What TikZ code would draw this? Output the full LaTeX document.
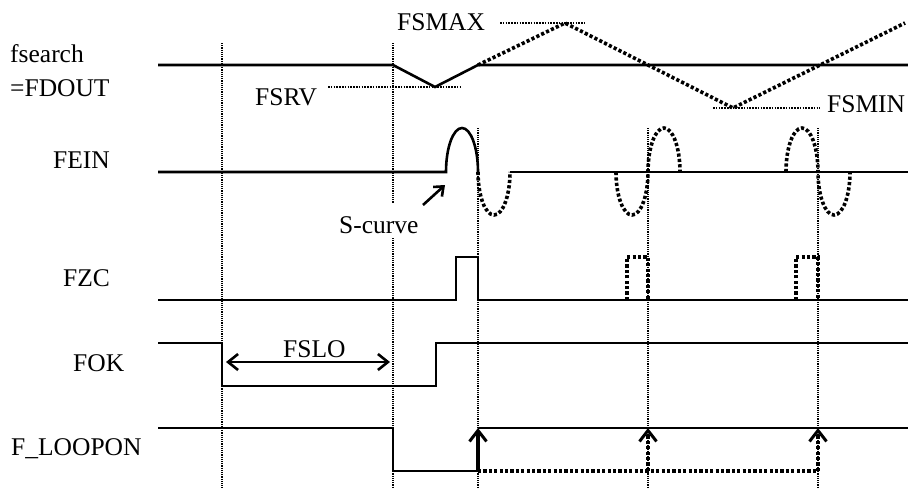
\documentclass[tikz,border=0pt]{standalone}
\usepackage{fontspec}
\setmainfont{Liberation Serif}
\usetikzlibrary{arrows.meta}
\tikzset{
 sig/.style={line width=2.6pt},
 bigdot/.style={line width=3.6pt,dash pattern=on 3.2pt off 2.2pt},
 guide/.style={line width=1.6pt,dash pattern=on 1.2pt off 1pt},
 refline/.style={line width=2.2pt,dash pattern=on 1.6pt off 1.2pt},
 lbl/.style={inner sep=0pt,anchor=base west,font=\fontsize{25.5}{28}\selectfont},
 uparrow/.style={-{Straight Barb[length=11pt,width=17pt,line width=3pt]}},
 span/.style={{Straight Barb[length=10pt,width=16pt]}-{Straight Barb[length=10pt,width=16pt]}}
}
\begin{document}
\begin{tikzpicture}[x=1pt,y=-1pt]
 \useasboundingbox (0,0) rectangle (908,490);
 \draw[guide] (222,43) -- (222,488);
 \draw[guide] (393,43) -- (393,203);
 \draw[guide] (393,238) -- (393,488);
 \foreach \x in {478,648,818}
  \draw[guide] (\x,128) -- (\x,488);

 \node[lbl] (fsearch) at (10,62) {fsearch};
 \node[lbl] (fdout) at (10,96) {=FDOUT};
 \coordinate (dip) at (435,87);
 \coordinate (top) at (565,23);
 \coordinate (bot) at (733,108);
 \draw[sig] (158,65) -- (393,65) -- (dip) -- (478,65) -- (908,65);
 \draw[bigdot] (478,65) -- (top) -- (bot) -- (905,23);
 \node[lbl] (fsrv) at (255,105) {FSRV};
 \draw[refline] (328,87) -- (dip) -- (460,87);
 \node[lbl] (fsmax) at (397,30) {FSMAX};
 \draw[refline] (500,23) -- (top) -- (585,23);
 \node[lbl] (fsmin) at (827,112) {FSMIN};
 \draw[refline] (713,108) -- (bot) -- (820,108);

 \node[lbl] (fein) at (53,168) {FEIN};
 \draw[sig] (158,172) -- (446,172) arc[start angle=180,end angle=360,x radius=16,y radius=44];
 \draw[bigdot] (478,172) arc[start angle=180,end angle=0,x radius=16,y radius=43];
 \draw[sig] (510,172) -- (908,172);
 \draw[bigdot] (616,172) arc[start angle=180,end angle=0,x radius=16,y radius=43]
  arc[start angle=180,end angle=360,x radius=16,y radius=44];
 \draw[bigdot] (786,172) arc[start angle=180,end angle=360,x radius=16,y radius=44]
  arc[start angle=180,end angle=0,x radius=16,y radius=43];
 \node[lbl] (scurve) at (339,233) {S-curve};
 \coordinate (stail) at (423,205);
 \draw[line width=2.6pt,-{Straight Barb[length=8pt,width=13pt]}] (stail) -- (445,185);

 \node[lbl] (fzc) at (63,286) {FZC};
 \draw[sig] (158,300) -- (456,300) -- (456,257) -- (478,257) -- (478,300) -- (908,300);
 \draw[bigdot] (627,300) -- (627,257) -- (648,257) -- (648,300);
 \draw[bigdot] (796,300) -- (796,257) -- (818,257) -- (818,300);

 \node[lbl] (fok) at (73,371) {FOK};
 \draw[sig] (158,343) -- (222,343) -- (222,386) -- (436,386) -- (436,343) -- (908,343);
 \node[lbl] (fslo) at (283,357) {FSLO};
 \draw[span,line width=2.6pt] (226,362) -- (390,362);

 \node[lbl] (floopon) at (11,455) {F\_LOOPON};
 \draw[sig] (158,428) -- (393,428) -- (393,471) -- (478,471);
 \draw[uparrow,line width=3.4pt] (478,471) -- (478,428);
 \draw[sig] (478,428) -- (908,428);
 \draw[bigdot] (478,471) -- (818,471);
 \draw[bigdot,uparrow] (648,471) -- (648,428);
 \draw[bigdot,uparrow] (818,471) -- (818,428);
\end{tikzpicture}
\end{document}
